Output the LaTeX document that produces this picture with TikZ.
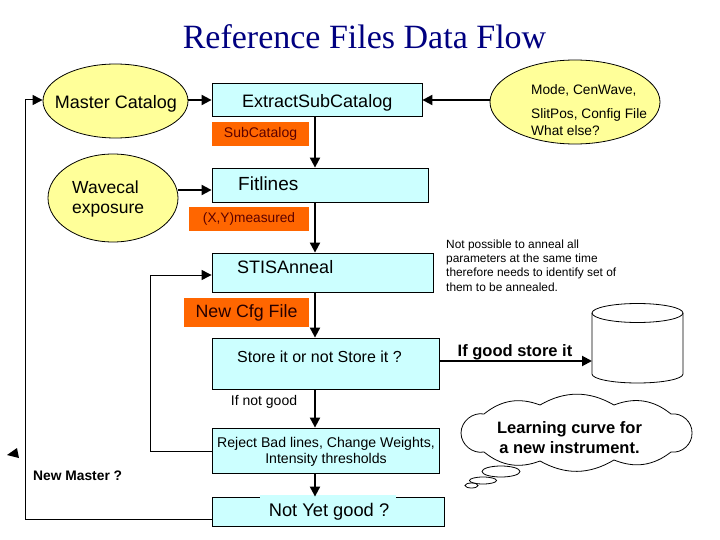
\documentclass[tikz,border=0pt]{standalone}
\usepackage{fontspec}
\setmainfont{Liberation Sans}
\newfontfamily\titlefont{Liberation Serif}
\usetikzlibrary{arrows.meta,shapes.geometric}
\definecolor{pyellow}{HTML}{FFFF99}
\definecolor{pcyan}{HTML}{CCFFFF}
\definecolor{porange}{HTML}{FF6600}
\definecolor{ptitle}{HTML}{000080}
\definecolor{pmaroon}{HTML}{5A0000}
\newcommand{\fs}[2]{\fontsize{#1}{#2}\selectfont}
\tikzset{
  box/.style={draw, line width=0.8pt, fill=pcyan, rectangle, inner sep=0pt},
  tag/.style={fill=porange, rectangle, inner sep=0pt, text=pmaroon},
  oval/.style={draw, line width=0.8pt, fill=pyellow, ellipse, inner sep=0pt},
  arr/.style={line width=2pt, -{Triangle[length=10pt,width=10pt]}},
  thin arr/.style={line width=1pt, -{Triangle[length=10pt,width=10pt]}},
  lbl/.style={inner sep=0pt, anchor=west}
}
\begin{document}
\begin{tikzpicture}[x=1pt,y=-1pt]
\useasboundingbox[fill=white] (0,0) rectangle (720,540);
% title
\node[inner sep=0pt, text=ptitle, font=\titlefont\fs{34}{38}] (title) at (364.5,37) {Reference Files Data Flow};
% ellipses
\node[oval, minimum width=145pt, minimum height=74pt] (master) at (115.5,101) {};
\node[inner sep=0pt, font=\fs{18}{20}] (mastert) at (116,104) {Master Catalog};
\node[oval, minimum width=130pt, minimum height=88pt] (wave) at (113,198) {};
\node[lbl, align=left, font=\fs{17.5}{20.5}] (wavet) at (72,199) {Wavecal\\exposure};
\node[oval, minimum width=170pt, minimum height=84pt] (mode) at (575,102) {};
\node[lbl, font=\fs{13.7}{16}] (modet1) at (531,90) {Mode, CenWave,};
\node[lbl, font=\fs{13.7}{16}] (modet2) at (531,115) {SlitPos, Config File};
\node[lbl, font=\fs{13.7}{16}] (modet3) at (531,130.5) {What else?};
% boxes
\node[box, minimum width=210pt, minimum height=33pt] (ext) at (317,99.5) {};
\node[lbl, font=\fs{18}{20}] (extt) at (242,102.5) {ExtractSubCatalog};
\node[box, minimum width=216pt, minimum height=34pt] (fit) at (320,185) {};
\node[lbl, font=\fs{19}{21}] (fitt) at (238,184) {Fitlines};
\node[box, minimum width=221pt, minimum height=39pt] (sa) at (322.5,272.5) {};
\node[lbl, font=\fs{18}{20}] (sat) at (237,267.5) {STISAnneal};
\node[box, minimum width=227pt, minimum height=51pt] (store) at (325.5,363.5) {};
\node[lbl, font=\fs{16}{18}] (storet) at (237,357) {Store it or not Store it ?};
\node[box, minimum width=227pt, minimum height=45pt] (rej) at (325.5,450.5) {};
\node[inner sep=0pt, align=center, font=\fs{14.1}{16.5}] (rejt) at (326,452) {Reject Bad lines, Change Weights,\\Intensity thresholds};
\node[box, minimum width=232pt, minimum height=29pt] (nyg) at (328,511.5) {};
\fill[pcyan] (260,494.5) rectangle (396,498.5);
\node[inner sep=0pt, font=\fs{18.3}{20}] (nygt) at (329,512) {Not Yet good ?};
% orange tags
\node[tag, minimum width=97pt, minimum height=24pt, font=\fs{14}{16}] (subcat) at (260.5,134) {SubCatalog};
\node[tag, minimum width=120pt, minimum height=24pt, font=\fs{13.7}{16}] (xy) at (249,219) {(X,Y)measured};
\node[tag, minimum width=125pt, minimum height=29pt, text=black!85!red, font=\fs{17.8}{20}] (cfg) at (246.5,312.5) {New Cfg File};
% note
\node[inner sep=0pt, anchor=north west, align=left, font=\fs{11.9}{14.3}] (note) at (446,239.5) {Not possible to anneal all\\parameters at the same time\\therefore needs to identify set of\\them to be annealed.};
% cylinder
\draw[line width=0.8pt, fill=white] (592,313) -- (592,374) arc[start angle=180, end angle=0, x radius=45.5, y radius=9] -- (683,313);
\draw[line width=0.8pt] (637.5,313) ellipse [x radius=45.5, y radius=9.5];
\coordinate (db) at (592,361);
% cloud
\draw[line width=0.8pt, fill=white]
  (692,433) to[bend left=50] (671,452) to[bend left=30] (614,460)
  to[bend left=30] (540,461) to[bend left=30] (484,452)
  to[bend left=50] (461,433) to[bend left=50] (484,414)
  to[bend left=30] (540,405) to[bend left=30] (614,405)
  to[bend left=30] (671,414) to[bend left=50] (692,433) -- cycle;
\node[inner sep=0pt, align=center, font=\bfseries\fs{16.5}{20}] (cloudt) at (569.5,438) {Learning curve for\\a new instrument.};
\draw[line width=0.8pt, fill=white] (501,471.5) ellipse [x radius=19, y radius=5.5];
\draw[line width=0.8pt, fill=white] (483,480.5) ellipse [x radius=13.5, y radius=3.5];
\draw[line width=0.8pt, fill=white] (471.5,485.5) ellipse [x radius=6.5, y radius=2.5];
% labels
\node[inner sep=0pt, font=\bfseries\fs{16.5}{18}] (good) at (515,352) {If good store it};
\node[inner sep=0pt, font=\fs{14}{16}] (notgood) at (264,401.5) {If not good};
\node[lbl, font=\bfseries\fs{13.8}{16}] (newm) at (33,476) {New Master ?};
% connectors
\coordinate (col) at (315,0);
\draw[arr] (master.east |- 0,100) -- (ext.west |- 0,100);
\draw[arr] (mode.west |- 0,100) -- (ext.east |- 0,100);
\draw[arr] (ext.south -| col) -- (fit.north -| col);
\draw[arr] (wave.east |- 0,190) -- (fit.west |- 0,190);
\draw[arr] (fit.south -| col) -- (sa.north -| col);
\draw[arr] (sa.south -| col) -- (store.north -| col);
\draw[arr] (store.south -| col) -- (rej.north -| col);
\draw[arr] (rej.south -| col) -- (nyg.north -| col);
\draw[arr] (store.east |- db) -- (db);
\coordinate (lp1) at (150,451);
\coordinate (lp2) at (150,275);
\draw[thin arr] (rej.west |- lp1) -- (lp1) -- (lp2) -- (sa.west |- lp2);
\coordinate (bp1) at (25,519);
\coordinate (bp2) at (25,100);
\draw[thin arr] (nyg.west |- bp1) -- (bp1) -- (bp2) -- (master.west |- bp2);
% stray arrow tip
\fill (17,448) -- (7,455) -- (19,458) -- cycle;
\end{tikzpicture}
\end{document}
